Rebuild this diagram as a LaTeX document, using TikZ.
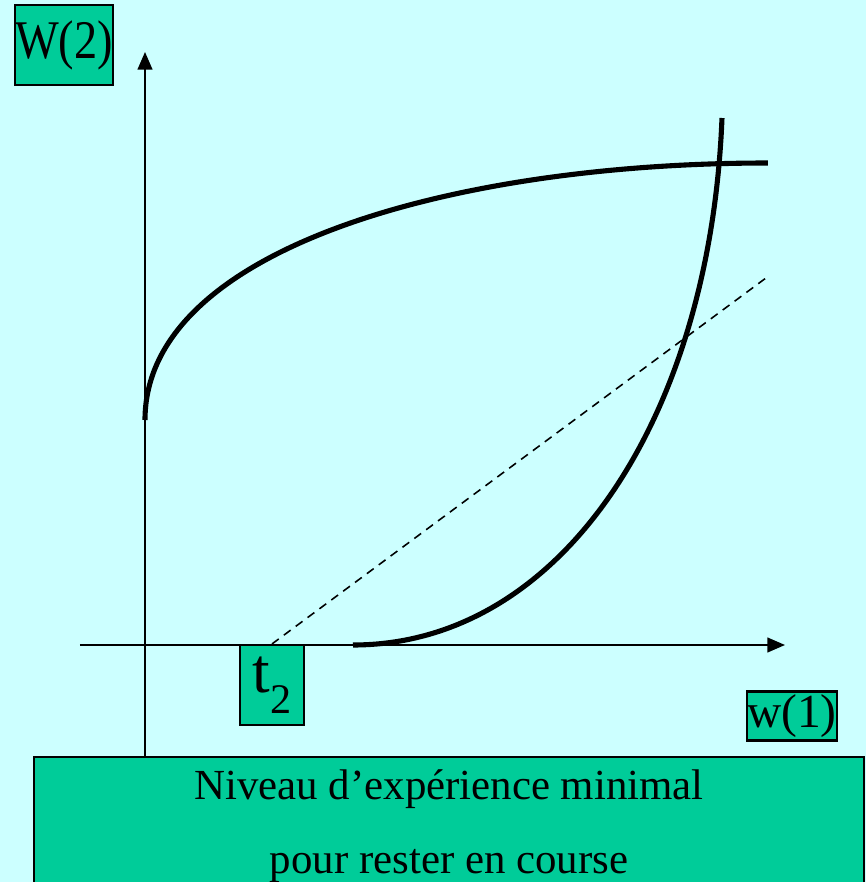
\documentclass[tikz,border=0pt]{standalone}
\usepackage{fontspec}
\setmainfont{Liberation Serif}
\usepackage{tikz}
\usetikzlibrary{arrows.meta}
\definecolor{slidebg}{HTML}{CCFFFF}
\definecolor{boxgreen}{HTML}{00CC99}
\tikzset{
  lbox/.style={draw, fill=boxgreen, inner sep=0pt, line width=0.6pt},
  axis/.style={line width=0.5pt, -{Triangle[length=5pt,width=4.2pt]}},
  curve/.style={line width=1.45pt}
}

\begin{document}
\begin{tikzpicture}
\useasboundingbox (0,0) rectangle (8.66,8.82);
\fill[slidebg] (0,0) rectangle (8.66,8.82);
% label boxes
\node[lbox, minimum width=8.30cm, minimum height=1.38cm, anchor=north west, align=center, font=\fontsize{12.2}{21}\selectfont] (level) at (0.33,1.26) {Niveau d’expérience minimal\\pour rester en course};
\node[lbox, minimum width=0.96cm, minimum height=0.80cm] (w2) at (0.64,8.37) {\fontsize{15.5}{16}\selectfont\scalebox{0.85}[1]{W(2)}};
\node[lbox, minimum width=0.64cm, minimum height=0.80cm] (t2) at (2.72,1.97) {\fontsize{18}{18}\selectfont t\raisebox{-6pt}{\fontsize{12}{12}\selectfont 2}};
\node[lbox, minimum width=0.80cm, minimum height=0.49cm] (w1) at (7.92,1.66) {\fontsize{13.5}{14}\selectfont w(1)};
\coordinate (ytop) at (1.45,8.30);
\coordinate (xleft) at (0.80,2.37);
\coordinate (xright) at (7.85,2.37);
\coordinate (dashend) at (7.70,6.07);
% axes
\draw[axis] (level.north west -| ytop) -- (ytop);
\draw[axis] (xleft) -- (xright);
% curves
\draw[curve] (1.45,4.62) .. controls (1.45,6.32) and (4.50,7.19) .. (7.68,7.19);
\draw[curve] (3.53,2.37) .. controls (5.60,2.37) and (7.10,4.62) .. (7.22,7.64);
\draw[line width=0.45pt, dash pattern=on 2.4pt off 1.8pt] (t2.north) -- (dashend);
\end{tikzpicture}
\end{document}
